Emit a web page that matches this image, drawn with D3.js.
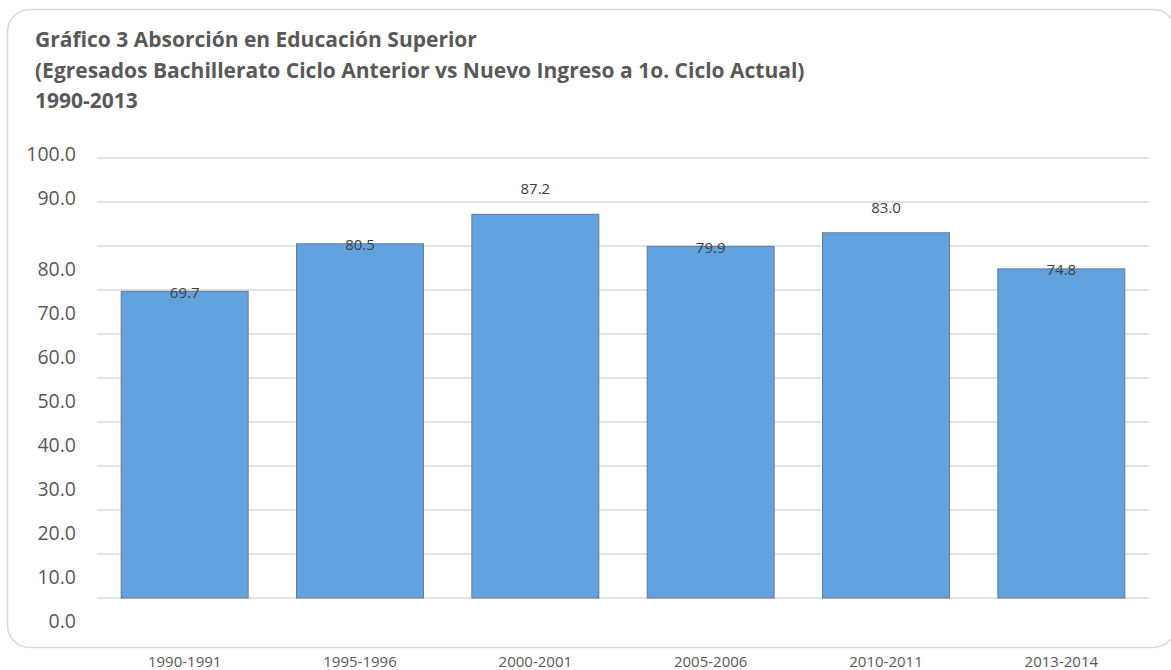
<!DOCTYPE html>
<html>
<head>
<meta charset="utf-8">
<style>
body {
	margin: 0;
	background: #ffffff;
}
text {
	font-family: "Open Sans", sans-serif;
}
</style>
</head>
<body>

<svg id="chart" width="1171" height="670"></svg>

<script src="https://d3js.org/d3.v7.min.js"></script>
<script>

// data
let periods = ['1990-1991', '1995-1996', '2000-2001', '2005-2006', '2010-2011', '2013-2014'];
let absorcion = [69.7, 80.5, 87.2, 79.9, 83.0, 74.8];
// where each value label sits in the original: on the bar edge or above it
let labelPlace = ['edge', 'edge', 'above', 'edge', 'above', 'edge'];
let titleLines = [
	'Gráfico 3 Absorción en Educación Superior',
	'(Egresados Bachillerato Ciclo Anterior vs Nuevo Ingreso a 1o. Ciclo Actual)',
	'1990-2013'
];
let yTicks = [0, 10, 20, 30, 40, 50, 60, 70, 80, 90, 100];

let width = 1171, height = 670;
let svg = d3.select('#chart');

// chart frame
svg.append('rect')
	.attr('x', 7.5)
	.attr('y', 9.5)
	.attr('width', 1168)
	.attr('height', 638)
	.attr('rx', 22)
	.attr('fill', 'none')
	.attr('stroke', '#d9d9d9')
	.attr('stroke-width', 1.5);

// title, sized so the second line is about as wide as in the picture
let title = svg.append('g');
title.selectAll('text').data(titleLines).join('text')
	.attr('x', 35)
	.attr('y', function(d, i) { return 47 + i * 30.5; })
	.style('font-weight', 700)
	.style('font-size', '20px')
	.style('fill', '#595959')
	.text(function(d) { return d; });
let w0 = d3.select(title.selectAll('text').nodes()[1]).node().getComputedTextLength();
title.selectAll('text').style('font-size', (20 * 770 / w0) + 'px');

let x = d3.scaleBand()
	.domain(periods)
	.range([97, 1149])
	.paddingInner(0.276)
	.paddingOuter(0.138);

let y = d3.scaleLinear()
	.domain([0, 100])
	.range([598, 158]);

// gridlines
svg.append('g').selectAll('line').data(yTicks).join('line')
	.attr('x1', 97)
	.attr('x2', 1148)
	.attr('y1', function(d) { return y(d); })
	.attr('y2', function(d) { return y(d); })
	.attr('stroke', '#d9d9d9')
	.attr('stroke-width', 1.5);

// y labels (in the picture the lower ones sit half a step below their line)
let yAxis = svg.append('g')
	.attr('transform', 'translate(76,0)')
	.call(d3.axisLeft(y).tickValues(yTicks).tickSize(0).tickPadding(0)
		.tickFormat(d3.format('.1f')));
yAxis.select('.domain').remove();
yAxis.selectAll('text')
	.style('font-size', '19.5px')
	.style('font-family', '"Open Sans", sans-serif')
	.style('fill', '#595959')
	.attr('dy', '0.35em')
	.attr('y', function(d) { return d <= 80 ? 22.5 : -4; });

// bars
svg.append('g').selectAll('rect').data(absorcion).join('rect')
	.attr('x', function(d, i) { return x(periods[i]); })
	.attr('y', function(d) { return y(d); })
	.attr('width', x.bandwidth())
	.attr('height', function(d) { return y(0) - y(d); })
	.attr('fill', '#62a3df')
	.attr('stroke', '#66788a')
	.attr('stroke-width', 1);

// value labels
svg.append('g').selectAll('text').data(absorcion).join('text')
	.attr('x', function(d, i) { return x(periods[i]) + x.bandwidth() / 2; })
	.attr('y', function(d, i) { return y(d) + (labelPlace[i] == 'above' ? -20 : 6.5); })
	.attr('text-anchor', 'middle')
	.style('font-size', '15px')
	.style('fill', '#404040')
	.text(function(d) { return d3.format('.1f')(d); });

// category labels, below the frame
let xAxis = svg.append('g')
	.attr('transform', 'translate(0,667)')
	.call(d3.axisBottom(x).tickSize(0).tickPadding(0));
xAxis.select('.domain').remove();
xAxis.selectAll('text')
	.attr('y', 0)
	.attr('dy', 0)
	.style('font-size', '15px')
	.style('font-family', '"Open Sans", sans-serif')
	.style('fill', '#595959');

</script>
</body>
</html>
